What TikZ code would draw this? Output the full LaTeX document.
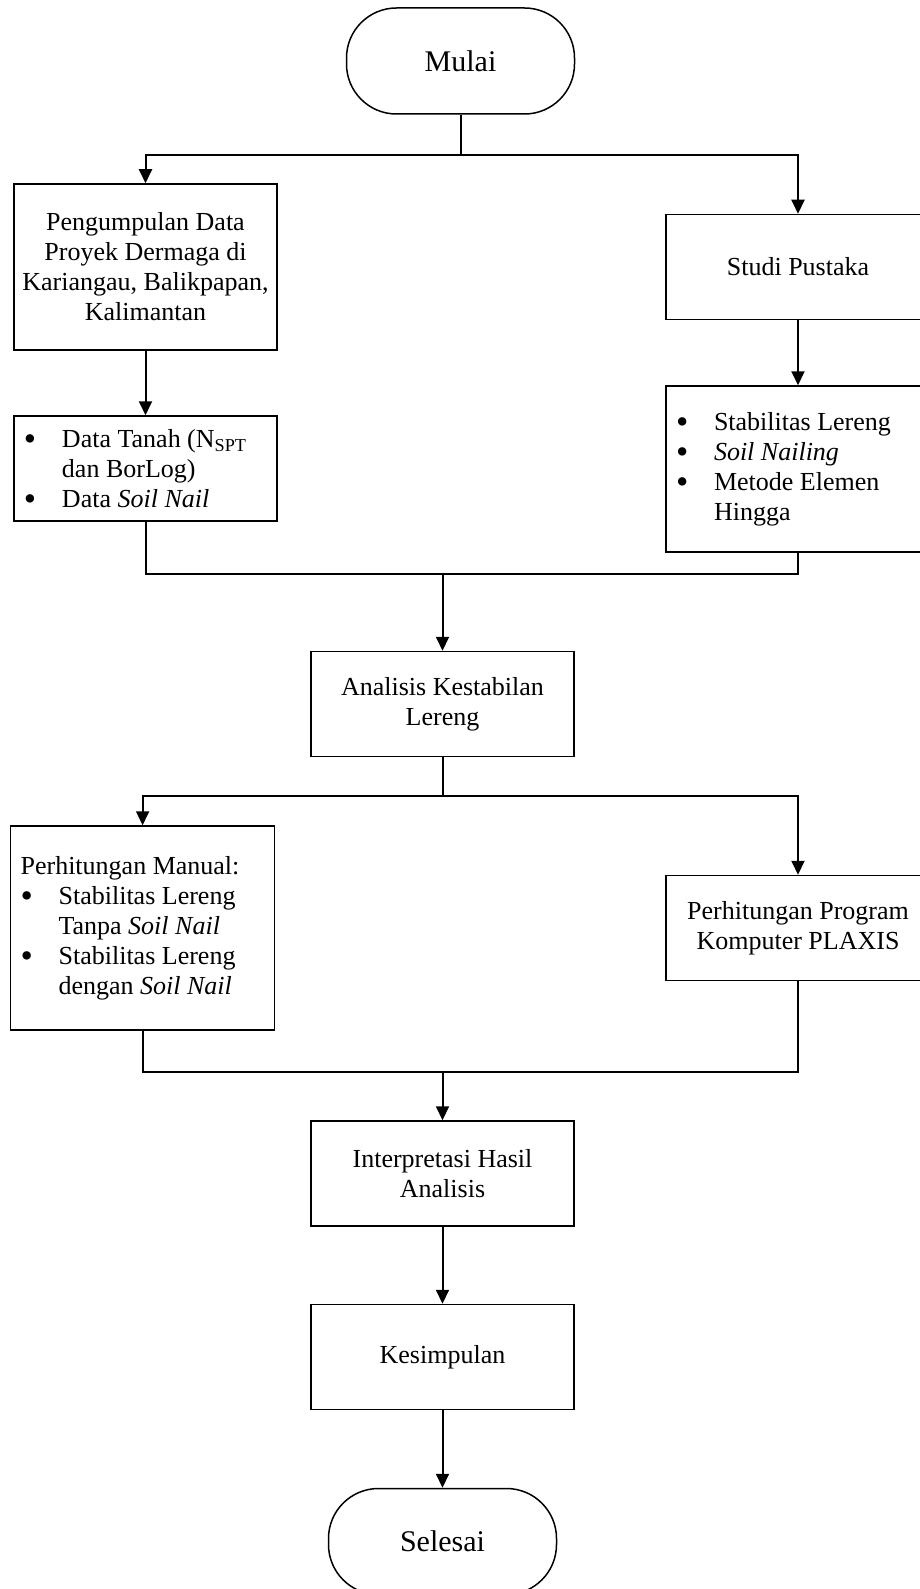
\documentclass[tikz,border=0pt]{standalone}
\usepackage{fontspec}
\setmainfont{Liberation Serif}
\usetikzlibrary{arrows.meta}
\tikzset{
Box/.style={draw,line width=0.75pt,minimum width=131.5pt,minimum height=52.5pt,align=center,font=\fontsize{13}{15}\selectfont},
List/.style={Box,align=flush left,inner xsep=5pt,text width=121.5pt},
Terminal/.style={draw,line width=0.75pt,rounded corners=25pt,minimum width=114pt,minimum height=53pt,font=\fontsize{15}{18}\selectfont},
Flow/.style={line width=1pt},
Arrow/.style={Flow,-{Triangle[length=7pt,width=6.5pt]}}
}
\newcommand{\ListDot}{\makebox[19pt][l]{\smash{\raisebox{-1.5pt}{\scalebox{1.35}{\textbullet}}}}}
\newcommand{\ListIndent}{\hspace*{19pt}}
\begin{document}
\begin{tikzpicture}[x=0.5pt,y=-0.5pt]
	\clip (0,0) rectangle (920,1589);
	
	% terminals
	\node[Terminal] (Mulai) at (460.5,61) {Mulai};
	\node[Terminal] (Selesai) at (442.5,1541.5) {Selesai};
	
	% upper branches
	\node[Box,minimum height=83pt] (Data) at (145.5,267) {Pengumpulan Data\\Proyek Dermaga di\\Kariangau, Balikpapan,\\Kalimantan};
	\node[List] (Tanah) at (145.5,468.5) {\ListDot Data Tanah (N\textsubscript{SPT}\\\ListIndent dan BorLog)\\\ListDot Data \textit{Soil Nail}};
	\node[Box,minimum width=132pt] (Studi) at (798,267) {Studi Pustaka};
	\node[List,minimum height=83pt,text width=122pt] (Teori) at (798,469) {\ListDot Stabilitas Lereng\\\ListDot \textit{Soil Nailing}\\\ListDot Metode Elemen\\\ListIndent Hingga};
	
	\node[Box] (Analisis) at (442.5,704) {Analisis Kestabilan\\Lereng};
	
	% lower branches
	\node[List,minimum height=102pt,text width=122pt] (Manual) at (142.6,928) {Perhitungan Manual:\\\ListDot Stabilitas Lereng\\\ListIndent Tanpa \textit{Soil Nail}\\\ListDot Stabilitas Lereng\\\ListIndent dengan \textit{Soil Nail}};
	\node[Box,minimum width=132pt] (Plaxis) at (798,928) {Perhitungan Program\\Komputer PLAXIS};
	
	\node[Box] (Hasil) at (442.5,1173.5) {Interpretasi Hasil\\Analisis};
	\node[Box] (Kesimpulan) at (442.5,1357) {Kesimpulan};
	
	\coordinate (Fork1) at (460.5,155);
	\coordinate (Join1) at (442.5,574);
	\coordinate (Fork2) at (442.5,796);
	\coordinate (Join2) at (442.5,1072);
	
	\draw[Flow] (Mulai) -- (Fork1);
	\draw[Arrow] (Fork1) -| (Data);
	\draw[Arrow] (Fork1) -| (Studi);
	\draw[Arrow] (Data) -- (Tanah);
	\draw[Arrow] (Studi) -- (Teori);
	\draw[Flow] (Tanah) |- (Join1) -| (Teori);
	\draw[Arrow] (Join1) -- (Analisis);
	
	\draw[Flow] (Analisis) -- (Fork2);
	\draw[Arrow] (Fork2) -| (Manual);
	\draw[Arrow] (Fork2) -| (Plaxis);
	\draw[Flow] (Manual) |- (Join2) -| (Plaxis);
	\draw[Arrow] (Join2) -- (Hasil);
	\draw[Arrow] (Hasil) -- (Kesimpulan);
	\draw[Arrow] (Kesimpulan) -- (Selesai);
\end{tikzpicture}
\end{document}
